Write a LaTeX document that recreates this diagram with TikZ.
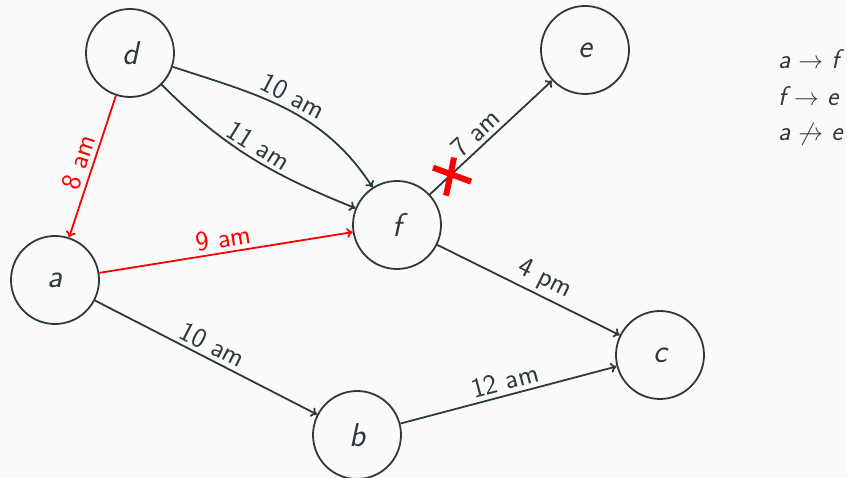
\documentclass[tikz,border=0pt]{standalone}
\usepackage{fontspec}
\usetikzlibrary{arrows.meta}
\definecolor{ink}{RGB}{45,58,61}
\definecolor{bg}{RGB}{250,250,250}
\definecolor{hot}{RGB}{255,0,0}
\begin{document}
\begin{tikzpicture}[x=1pt,y=1pt,
  vert/.style={circle,draw=ink,line width=1.8pt,minimum size=88pt,inner sep=0pt,
    font=\fontsize{33}{36}\selectfont\sffamily\itshape,text=ink},
  edge/.style={-{To[length=6pt,width=10pt]},draw=ink,line width=1.8pt},
  hotedge/.style={edge,draw=hot},
  lbl/.style={sloped,above,inner sep=4pt,font=\fontsize{28}{30}\selectfont\sffamily,text=ink},
  hotlbl/.style={lbl,text=hot},
  side/.style={anchor=base west,inner sep=0pt,font=\fontsize{27}{30}\selectfont\sffamily\itshape,text=ink},
  cross/.style={draw=hot,line width=6pt}]
\useasboundingbox[fill=bg] (0,0) rectangle (847,-478);
\node[vert] (d) at (130,-53) {d};
\node[vert] (e) at (585,-50) {e};
\node[vert] (f) at (397,-225) {f};
\node[vert] (a) at (55,-280) {a};
\node[vert] (b) at (357,-435) {b};
\node[vert] (c) at (660,-355) {c};
\draw[hotedge] (d) -- node[hotlbl]{8 am} (a);
\draw[hotedge] (a) -- node[hotlbl]{9 am} (f);
\draw[edge] (d) to[out=-18,in=123] node[lbl,pos=0.5]{10 am} (f);
\draw[edge] (d) to[out=-45,in=158] node[lbl,pos=0.5]{11 am} (f);
\draw[edge] (f) -- coordinate[pos=0.165] (x) node[lbl,pos=0.45]{7 am} (e);
\draw[edge] (f) -- node[lbl,pos=0.55]{4 pm} (c);
\draw[edge] (a) -- node[lbl]{10 am} (b);
\draw[edge] (b) -- node[lbl]{12 am} (c);
\draw[cross] ([shift={(-17,8)}]x) -- ([shift={(21,-6)}]x);
\draw[cross] ([shift={(4,18)}]x) -- ([shift={(-4,-20)}]x);
\node[side] (r1) at (778,-69) {a\hspace{0.3em}$\rightarrow$\hspace{0.3em}f};
\node[side] (r2) at (778,-106) {f\hspace{0.3em}$\rightarrow$\hspace{0.3em}e};
\node[side] (r3) at (778,-141) {a\hspace{0.3em}$\not\rightarrow$\hspace{0.3em}e};
\end{tikzpicture}
\end{document}
